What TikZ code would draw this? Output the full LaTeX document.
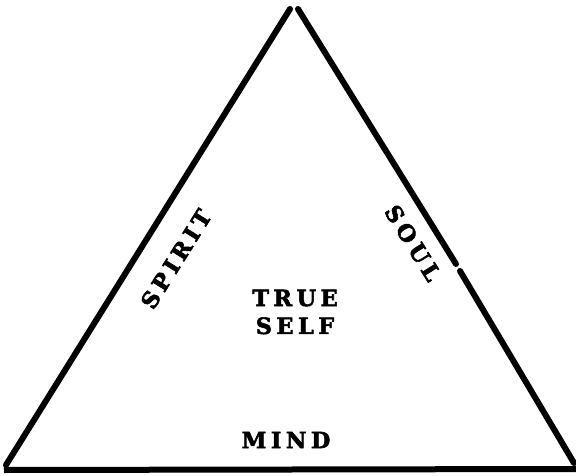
\documentclass[tikz,border=0pt]{standalone}
\usepackage{fontspec}
\setmainfont{DejaVu Serif}
\begin{document}
\begin{tikzpicture}[x=1bp,y=-1bp,
  side/.style={line width=6bp,line cap=round},
  lbl/.style={font=\bfseries\fontsize{22.5}{22}\selectfont\addfontfeature{LetterSpace=20,FakeBold=2.5},inner sep=0pt,align=center}]
\useasboundingbox (0,0) rectangle (576,476);
\coordinate (bl) at (6,465);
\coordinate (ap1) at (290,9);
\coordinate (ap2) at (298,9);
\coordinate (g1) at (456,264);
\coordinate (g2) at (460,271);
\coordinate (br) at (574,463);
\coordinate (b1) at (4,470);
\coordinate (b2) at (576,469);
\draw[side] (bl) -- (ap1);
\draw[side] (ap2) -- (g1);
\draw[side] (g2) -- (br);
\draw[line width=6bp] (b1) -- (b2);
\node[lbl,rotate=58] (spirit) at (176,259) {SPIRIT};
\node[lbl,rotate=-58] (soul) at (413,243) {SOUL};
\node[lbl,font=\bfseries\fontsize{22.5}{28}\selectfont\addfontfeature{LetterSpace=20,FakeBold=2.5}] (self) at (295,312) {TRUE\\SELF};
\node[lbl] (mind) at (286,440) {MIND};
\end{tikzpicture}
\end{document}
